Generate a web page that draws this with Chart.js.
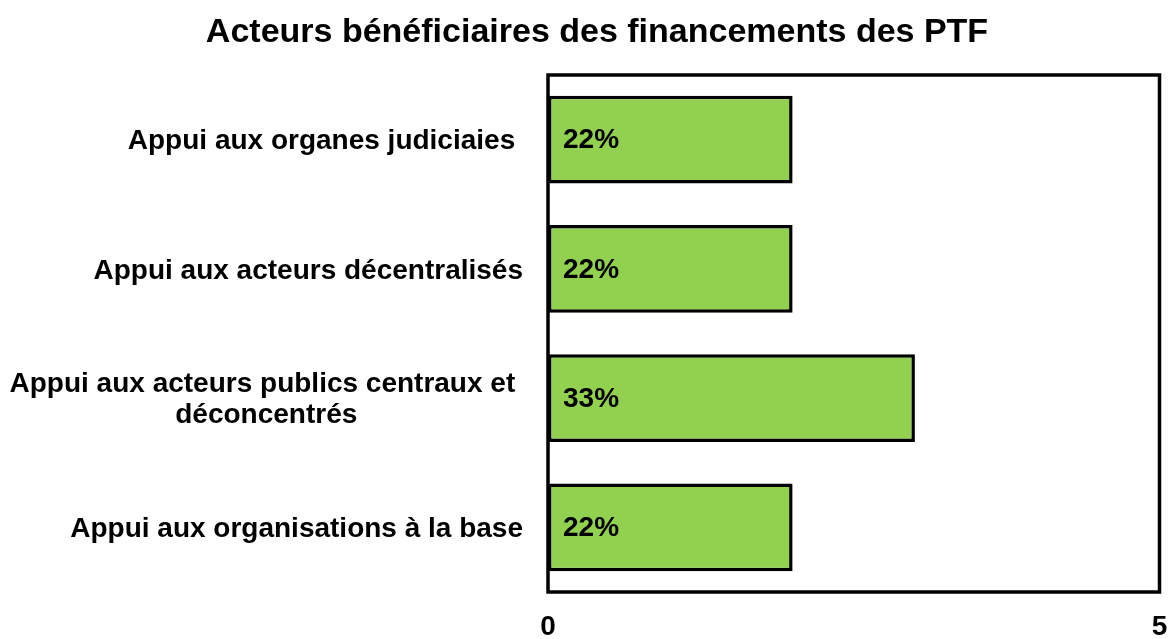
<!DOCTYPE html>
<html>
<head>
<meta charset="utf-8">
<script src="https://cdn.jsdelivr.net/npm/chart.js@4"></script>
<style>
  body { margin: 0; background: #fff; }
</style>
</head>
<body>
<canvas id="acteursChart" width="1172" height="639"></canvas>
<script>
// donnees
const categories = [
    ['Appui aux organes judiciaies '],
    ['Appui aux acteurs décentralisés'],
    ['Appui aux acteurs publics centraux et ', 'déconcentrés'],
    ['Appui aux organisations à la base']
];
const values = [2, 2, 3, 2];
const percentLabels = ['22%', '22%', '33%', '22%'];
const xTicks = [0, 5];
const chartTitle = 'Acteurs bénéficiaires des financements des PTF';

const FONT = "'Liberation Sans', Arial, sans-serif";

// titre, cadre, libelles des categories et pourcentages dans les barres
const drawExtras = {
    id: 'drawExtras',
    afterDatasetsDraw(chart) {
        const ctx = chart.ctx;
        const area = chart.chartArea;
        const yScale = chart.scales.y;
        const meta = chart.getDatasetMeta(0);

        ctx.save();
        ctx.fillStyle = '#000';
        ctx.font = 'bold 34px ' + FONT;
        ctx.textAlign = 'center';
        ctx.textBaseline = 'middle';
        ctx.fillText(chartTitle, 597, 33);

        ctx.strokeStyle = '#000';
        ctx.lineWidth = 3.5;
        ctx.strokeRect(area.left, area.top, area.right - area.left, area.bottom - area.top);

        ctx.font = 'bold 28px ' + FONT;

        categories.forEach(function(lines, i) {
            const y = yScale.getPixelForTick(i);
            let blockW = 0;
            lines.forEach(function(l) { blockW = Math.max(blockW, ctx.measureText(l).width); });
            const cx = area.left - 25 - blockW / 2;
            const lh = 31;
            const y0 = y - (lines.length - 1) * lh / 2 + 2;
            ctx.textAlign = 'center';
            lines.forEach(function(l, k) {
                ctx.fillText(l, cx, y0 + k * lh);
            });
        });

        ctx.textAlign = 'left';
        meta.data.forEach(function(bar, i) {
            ctx.fillText(percentLabels[i], bar.base + 15, bar.y + 1);
        });
        ctx.restore();
    }
};

new Chart(document.getElementById('acteursChart').getContext('2d'), {
    type: 'bar',
    data: {
        labels: categories,
        datasets: [{
            data: values,
            backgroundColor: '#92D050',
            borderColor: '#000',
            borderWidth: 3.5,
            borderSkipped: false,
            categoryPercentage: 1,
            barPercentage: 0.68
        }]
    },
    options: {
        indexAxis: 'y',
        responsive: false,
        animation: false,
        layout: { padding: { left: 0, right: 12.5, top: 75, bottom: 0 } },
        plugins: {
            legend: { display: false },
            tooltip: { enabled: false },
            title: { display: false }
        },
        scales: {
            x: {
                min: xTicks[0],
                max: xTicks[xTicks.length - 1],
                afterBuildTicks: function(scale) {
                    scale.ticks = xTicks.map(function(v) { return { value: v }; });
                },
                grid: { display: false, drawTicks: false },
                border: { display: false },
                ticks: {
                    color: '#000',
                    padding: 18,
                    font: { family: FONT, size: 28, weight: 'bold' }
                },
                afterFit: function(scale) {
                    scale.height = 47;
                    scale.paddingLeft = 0;
                    scale.paddingRight = 0;
                }
            },
            y: {
                grid: { display: false, drawTicks: false },
                border: { display: false },
                ticks: { display: false },
                afterFit: function(scale) { scale.width = 548; }
            }
        }
    },
    plugins: [drawExtras]
});
</script>
</body>
</html>
